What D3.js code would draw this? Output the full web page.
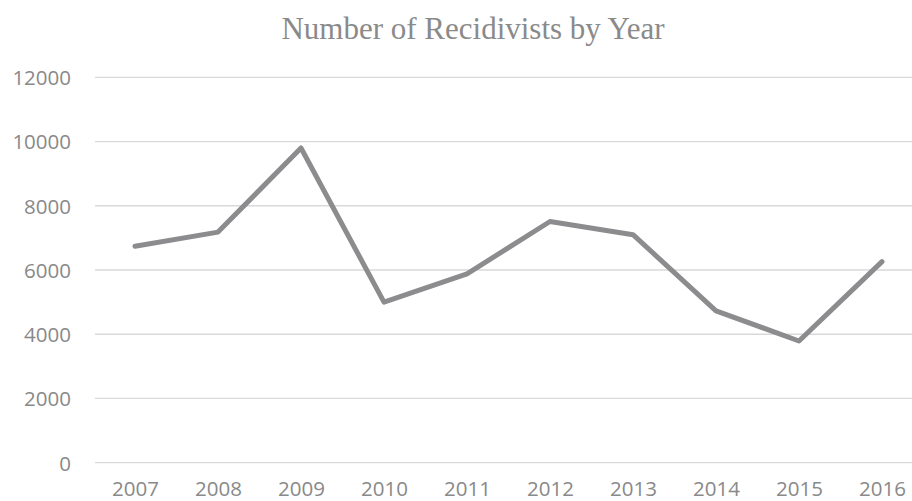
<!DOCTYPE html>
<html>
<head>
<meta charset="utf-8">
<script src="https://cdn.jsdelivr.net/npm/d3@7"></script>
<style>
html, body { margin: 0; padding: 0; background: #fff; }
svg { display: block; }
</style>
</head>
<body>
<svg id="chart" width="912" height="501"></svg>
<script>
const years = ["2007","2008","2009","2010","2011","2012","2013","2014","2015","2016"];
const recidivists = [6740, 7180, 9800, 5000, 5880, 7510, 7100, 4730, 3790, 6260];
const yTicks = [0, 2000, 4000, 6000, 8000, 10000, 12000];
const title = "Number of Recidivists by Year";

const svg = d3.select("#chart");
const W = 912, H = 501;

const x = d3.scalePoint().domain(years).range([93.5, 923.5]).padding(0.5);
const y = d3.scaleLinear().domain([0, 12000]).range([462.7, 77.3]);

// gridlines
svg.append("g")
  .selectAll("line")
  .data(yTicks)
  .join("line")
  .attr("x1", 95).attr("x2", W)
  .attr("y1", d => y(d)).attr("y2", d => y(d))
  .attr("stroke", "#d9d9d9").attr("stroke-width", 1.3);

// y axis labels
const yAxis = d3.axisLeft(y).tickValues(yTicks).tickSize(0).tickPadding(0).tickFormat(d3.format("d"));
const gy = svg.append("g").attr("transform", "translate(71,0)").call(yAxis);
gy.select(".domain").remove();
gy.selectAll("text")
  .attr("fill", "#898989")
  .attr("font-family", "'Open Sans', sans-serif")
  .attr("font-size", 20.5)
  .attr("dy", "0.36em");

// x axis labels
const xAxis = d3.axisBottom(x).tickSize(0).tickPadding(0);
const gx = svg.append("g").attr("transform", "translate(0,481)").call(xAxis);
gx.select(".domain").remove();
gx.selectAll("text")
  .attr("fill", "#898989")
  .attr("font-family", "'Open Sans', sans-serif")
  .attr("font-size", 20.5)
  .attr("dy", "0.71em");

// line
const line = d3.line().x((d, i) => x(years[i])).y(d => y(d));
svg.append("path")
  .datum(recidivists)
  .attr("d", line)
  .attr("fill", "none")
  .attr("stroke", "#8c8c8f")
  .attr("stroke-width", 5)
  .attr("stroke-linecap", "round")
  .attr("stroke-linejoin", "round");

// title
svg.append("text")
  .attr("x", 473).attr("y", 39)
  .attr("text-anchor", "middle")
  .attr("fill", "#8a8a8a")
  .attr("font-family", "'Liberation Serif', 'Times New Roman', serif")
  .attr("font-size", 31)
  .text(title);
</script>
</body>
</html>
